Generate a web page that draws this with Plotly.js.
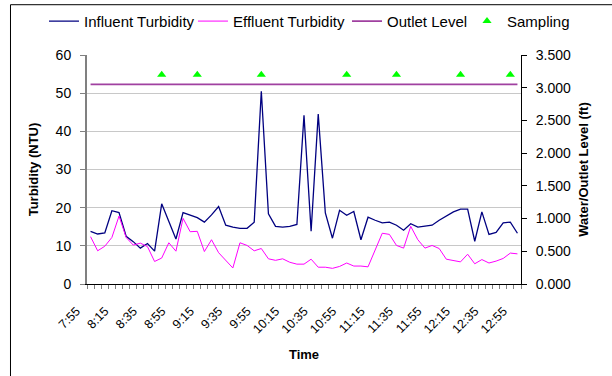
<!DOCTYPE html>
<html>
<head>
<meta charset="utf-8">
<script src="https://cdn.plot.ly/plotly-3.0.1.min.js"></script>
<style>
html,body{margin:0;padding:0;background:#fff;}
#chart{width:612px;height:376px;}
</style>
</head>
<body>
<div id="chart"></div>
<script>
// Category labels (5-minute readings)
const times = ['7:55','8:00','8:05','8:10','8:15','8:20','8:25','8:30','8:35','8:40','8:45','8:50','8:55',
  '9:00','9:05','9:10','9:15','9:20','9:25','9:30','9:35','9:40','9:45','9:50','9:55',
  '10:00','10:05','10:10','10:15','10:20','10:25','10:30','10:35','10:40','10:45','10:50','10:55',
  '11:00','11:05','11:10','11:15','11:20','11:25','11:30','11:35','11:40','11:45','11:50','11:55',
  '12:00','12:05','12:10','12:15','12:20','12:25','12:30','12:35','12:40','12:45','12:50','12:55'];

const influent = [13.8,13.1,13.4,19.2,18.7,12.5,11.1,9.4,10.6,8.6,21.0,16.4,11.8,
  18.7,18.1,17.4,16.2,18.1,20.3,15.4,14.9,14.6,14.6,16.2,50.5,
  18.4,15.1,14.9,15.1,15.6,44.2,13.8,44.5,18.6,12.0,19.3,18.0,
  19.0,11.6,17.5,16.7,16.0,16.2,15.4,14.1,15.8,14.9,15.1,15.4,
  16.7,17.7,18.9,19.6,19.6,11.2,18.9,13.0,13.5,16.0,16.2,13.3];

const effluent = [12.4,8.7,9.9,12.2,17.8,12.2,10.2,10.7,9.8,5.9,6.8,10.8,8.6,
  17.2,13.7,13.8,8.5,11.6,8.2,6.1,4.2,10.8,10.1,8.7,9.3,
  6.6,6.2,6.6,5.7,5.2,5.2,6.5,4.4,4.4,4.1,4.6,5.5,
  4.7,4.7,4.5,8.9,13.3,13.0,10.1,9.4,15.1,11.6,9.4,10.1,
  9.3,6.5,6.2,5.8,7.8,5.3,6.4,5.5,6.0,6.7,8.1,7.9];

const outletLevel = [3.05,3.05,3.05,3.05,3.05,3.05,3.05,3.05,3.05,3.05,3.05,3.05,3.05,
  3.05,3.05,3.05,3.05,3.05,3.05,3.05,3.05,3.05,3.05,3.05,3.05,
  3.05,3.05,3.05,3.05,3.05,3.05,3.05,3.05,3.05,3.05,3.05,3.05,
  3.05,3.05,3.05,3.05,3.05,3.05,3.05,3.05,3.05,3.05,3.05,3.05,
  3.05,3.05,3.05,3.05,3.05,3.05,3.05,3.05,3.05,3.05,3.05,3.05];

const samplingTimes = ['8:45','9:10','9:55','10:55','11:30','12:15','12:50'];
const samplingLevel = [3.2,3.2,3.2,3.2,3.2,3.2,3.2];

const tickLabels = ['7:55','8:15','8:35','8:55','9:15','9:35','9:55','10:15','10:35','10:55',
  '11:15','11:35','11:55','12:15','12:35','12:55'];

const idx = times.map((t, i) => i);
const FONT = 'Liberation Sans, Arial, sans-serif';

const traces = [
  {x: idx, y: influent, name: 'Influent Turbidity', type: 'scatter', mode: 'lines',
   line: {color: '#000080', width: 1.3}, yaxis: 'y', legend: 'legend'},
  {x: idx, y: effluent, name: 'Effluent Turbidity', type: 'scatter', mode: 'lines',
   line: {color: '#ff00ff', width: 1}, yaxis: 'y', legend: 'legend2'},
  {x: idx, y: outletLevel, name: 'Outlet Level', type: 'scatter', mode: 'lines',
   line: {color: '#a040a0', width: 1.8}, yaxis: 'y2', legend: 'legend3'},
  {x: samplingTimes.map(t => times.indexOf(t)), y: samplingLevel, name: 'Sampling', type: 'scatter', mode: 'markers',
   marker: {symbol: 'triangle-up', color: '#00ff00', size: 8}, yaxis: 'y2', legend: 'legend4'}
];

function legendAt(xp) {
  return {orientation: 'h', x: xp, xanchor: 'left', y: 1.147, yanchor: 'middle',
    font: {family: FONT, size: 15}, bgcolor: 'rgba(0,0,0,0)', itemwidth: 30};
}

const layout = {
  width: 612, height: 376,
  margin: {l: 87, r: 91, t: 55, b: 92, pad: 0, autoexpand: false},
  paper_bgcolor: '#ffffff', plot_bgcolor: '#ffffff',
  font: {family: FONT, color: '#000', size: 13},
  showlegend: true,
  legend: legendAt(-0.0991),
  legend2: legendAt(0.2442),
  legend3: legendAt(0.5991),
  legend4: legendAt(0.8756),
  xaxis: {
    range: [-0.5, 60.5], showgrid: false, zeroline: false,
    showline: true, linecolor: '#000', linewidth: 1,
    tickmode: 'array', tickvals: tickLabels.map(t => times.indexOf(t)), ticktext: tickLabels,
    ticks: '', tickangle: -45, tickfont: {family: FONT, size: 12.5},
    ticklabelstandoff: 14, ticklabelshift: -14,
    minor: {tick0: -0.5, dtick: 1, ticks: 'outside', ticklen: 4, tickcolor: '#808080', showgrid: false},
    title: {text: '<b>Time</b>', font: {family: FONT, size: 13}, standoff: 14}
  },
  yaxis: {
    range: [0, 60], dtick: 10, showgrid: true, gridcolor: '#c8c8c8', gridwidth: 1,
    zeroline: false, showline: true, linecolor: '#808080', linewidth: 2,
    ticks: 'outside', ticklen: 5, tickcolor: '#808080', ticklabelstandoff: 6,
    tickfont: {family: FONT, size: 14},
    title: {text: '<b>Turbidity (NTU)</b>', font: {family: FONT, size: 13}, standoff: 14}
  },
  yaxis2: {
    overlaying: 'y', side: 'right', range: [0, 3.5], dtick: 0.5, tickformat: '.3f',
    showgrid: false, zeroline: false, showline: true, linecolor: '#000', linewidth: 1,
    ticks: 'outside', ticklen: 5, tickcolor: '#000', ticklabelstandoff: 6,
    tickfont: {family: FONT, size: 14},
    title: {text: '<b>Water/Outlet Level (ft)</b>', font: {family: FONT, size: 13}, standoff: 8}
  },
  shapes: [
    {type: 'rect', xref: 'paper', yref: 'paper', x0: -0.1763, x1: 1.5, y0: -1, y1: 1.2196,
     line: {color: '#000', width: 1}, fillcolor: 'rgba(0,0,0,0)', layer: 'below'}
  ]
};

Plotly.newPlot('chart', traces, layout, {displayModeBar: false, staticPlot: true});
</script>
</body>
</html>
